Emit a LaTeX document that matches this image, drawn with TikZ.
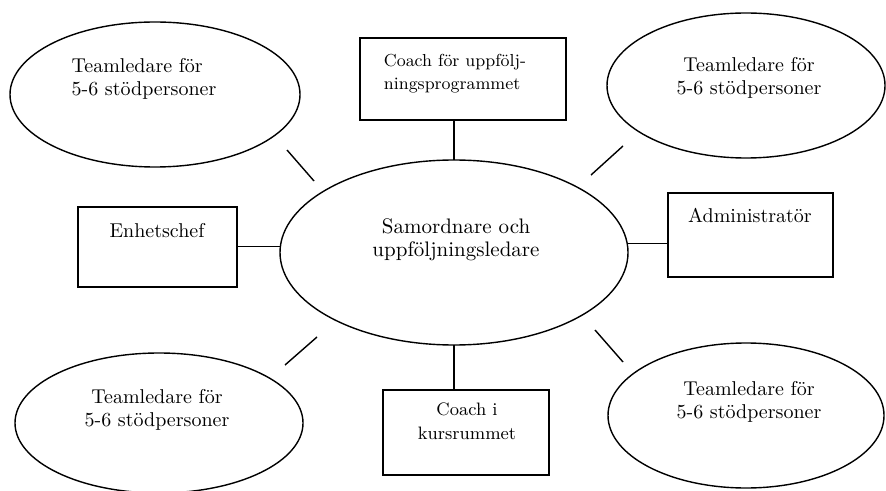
\documentclass[tikz,border=0pt]{standalone}
\usetikzlibrary{shapes.geometric}
\begin{document}
\begin{tikzpicture}[x=0.5pt,y=-0.5pt,
  line width=0.7pt,
  oval/.style={draw, ellipse, inner sep=0pt, outer sep=0pt},
  boxnode/.style={draw, rectangle, inner sep=0pt, outer sep=0pt},
  lbl/.style={align=center, inner sep=0pt, font=\fontsize{10}{11.5}\selectfont}]
\useasboundingbox (0,0) rectangle (886,491);
% ellipses
\node[oval, minimum width=145pt, minimum height=72.5pt] (tl) at (155,94.5) {};
\node[oval, minimum width=139pt, minimum height=72.5pt] (tr) at (746,85.5) {};
\node[oval, minimum width=144pt, minimum height=70pt] (bl) at (159,423) {};
\node[oval, minimum width=138pt, minimum height=72.5pt] (br) at (746,415.5) {};
\node[oval, minimum width=174pt, minimum height=92.5pt] (mid) at (454,252.5) {};
% boxes
\node[boxnode, minimum width=103pt, minimum height=41pt] (coachup) at (463,79) {};
\node[boxnode, minimum width=79.5pt, minimum height=40pt] (ench) at (157.5,247) {};
\node[boxnode, minimum width=82.5pt, minimum height=42pt] (admin) at (750.5,235) {};
\node[boxnode, minimum width=83pt, minimum height=42.5pt] (kurs) at (466,432.5) {};
% texts
\node[lbl, align=left] (tlt) at (144,78.5) {Teamledare för\\5-6 stödpersoner};
\node[lbl] (trt) at (749,78) {Teamledare för\\5-6 stödpersoner};
\node[lbl] (blt) at (157,410) {Teamledare för\\5-6 stödpersoner};
\node[lbl] (brt) at (749,402) {Teamledare för\\5-6 stödpersoner};
\node[lbl, font=\fontsize{10.5}{11.5}\selectfont] (midt) at (456,239.5) {Samordnare och\\uppföljningsledare};
\node[lbl, align=left, font=\fontsize{8.7}{11.5}\selectfont] (coachupt) at (455,74) {Coach för uppfölj-\\ningsprogrammet};
\node[lbl] (encht) at (157,231) {Enhetschef};
\node[lbl] (admint) at (750,215) {Administratör};
\node[lbl, font=\fontsize{9}{12}\selectfont] (kurst) at (467,421) {Coach i\\kursrummet};
% connectors
\draw (mid.north) -- (mid.north |- coachup.south);
\draw (mid.south) -- (mid.south |- kurs.north);
\draw (mid.178) -- (mid.178 -| ench.east);
\draw (mid.3) -- (mid.3 -| admin.west);
% free diagonal strokes
\coordinate (d1a) at (287,150); \coordinate (d1b) at (314,181);
\coordinate (d2a) at (591,175); \coordinate (d2b) at (623,146);
\coordinate (d3a) at (285,365); \coordinate (d3b) at (317,337);
\coordinate (d4a) at (595,330); \coordinate (d4b) at (623,362);
\draw (d1a) -- (d1b);
\draw (d2a) -- (d2b);
\draw (d3a) -- (d3b);
\draw (d4a) -- (d4b);
\end{tikzpicture}
\end{document}
